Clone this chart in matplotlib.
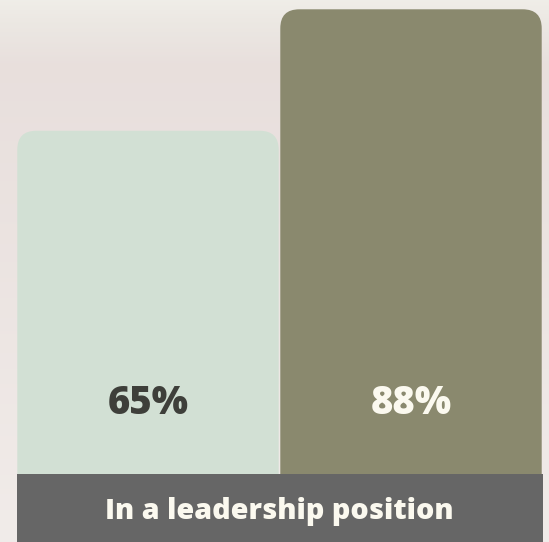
import matplotlib
matplotlib.use("Agg")
import matplotlib.pyplot as plt
import numpy as np
from matplotlib.patches import FancyBboxPatch, Rectangle

# ---- data ----
categories = ["Group A", "Group B"]
values = [65, 88]
value_labels = ["65%", "88%"]
category_label = "In a leadership position"

bar_colors = ["#d2e0d4", "#8a896e"]
label_colors = ["#3e3f3a", "#fbf9ef"]

FONT = ["Open Sans", "DejaVu Sans"]

W, H, DPI = 549, 542, 100
fig = plt.figure(figsize=(W / DPI, H / DPI), dpi=DPI)
fig.patch.set_facecolor("#ebe3e0")

# subtle background (photo-like wash)
bg = fig.add_axes([0, 0, 1, 1], zorder=-10)
bg.set_axis_off()
n = 300
rows = np.linspace(0, 1, n)
keys_r = [0.0, 0.04, 0.12, 0.5, 1.0]
keys_c = np.array([[0.94, 0.93, 0.91],
                   [0.925, 0.91, 0.89],
                   [0.91, 0.875, 0.865],
                   [0.925, 0.895, 0.885],
                   [0.945, 0.925, 0.915]])
grad = np.stack([np.interp(rows, keys_r, keys_c[:, k]) for k in range(3)], axis=-1)
grad = grad[:, None, :]
bg.imshow(grad, aspect="auto", extent=[0, 1, 0, 1], interpolation="bilinear")

# main axes
left_px, right_px = 16.5, 542.5
base_px, top_px = 474, 9.3
ax = fig.add_axes([left_px / W, (H - base_px) / H,
                   (right_px - left_px) / W, (base_px - top_px) / H])
ax.set_xlim(-0.5, 1.5)
ax.set_ylim(0, max(values))
ax.set_axis_off()
ax.patch.set_alpha(0)

x = np.arange(len(categories))
bw = 0.994
bars = ax.bar(x, values, width=bw, color=bar_colors)

# replace with top-rounded patches
ax_w_px = right_px - left_px
ax_h_px = base_px - top_px
xu_per_px = 2.0 / ax_w_px
yu_per_px = max(values) / ax_h_px
radius_px = 19
for rect, col in zip(bars, bar_colors):
    rect.set_visible(False)
    x0 = rect.get_x()
    w = rect.get_width()
    h = rect.get_height()
    ext = 30 * yu_per_px
    p = FancyBboxPatch((x0, -ext), w, h + ext,
                       boxstyle=f"round,pad=0,rounding_size={radius_px * xu_per_px}",
                       mutation_aspect=yu_per_px / xu_per_px,
                       facecolor=col, edgecolor="none", linewidth=0,
                       clip_on=False, zorder=2)
    ax.add_patch(p)

# value labels
label_y = (base_px - 414) * yu_per_px
for xi, lab, c in zip(x, value_labels, label_colors):
    ax.text(xi, label_y, lab, ha="center", va="baseline", color=c,
            fontsize=27.5, fontweight="heavy", family=FONT, zorder=5)

# bottom band with category label
band = Rectangle((left_px / W, 0), (right_px - left_px) / W, (H - base_px) / H,
                 transform=fig.transFigure, facecolor="#666666", edgecolor="none", zorder=20)
fig.patches.append(band)
fig.text((left_px + right_px) / 2 / W, (H - 518.5) / H, category_label,
         ha="center", va="baseline", color="#fbf9ef", fontsize=20.7,
         fontweight="heavy", family=FONT, zorder=21)

fig.savefig("out.png", dpi=DPI)
